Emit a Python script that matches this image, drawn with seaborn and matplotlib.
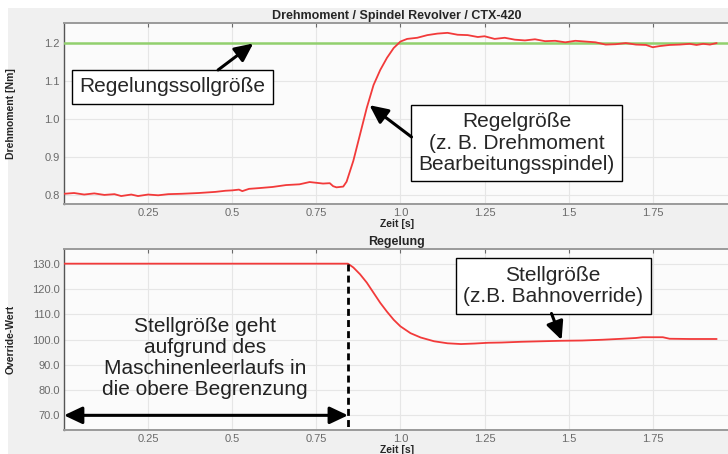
import matplotlib
matplotlib.use("Agg")
import matplotlib.pyplot as plt
import seaborn as sns
from matplotlib.patches import Rectangle

# ---------------------------------------------------------------
# Data
# ---------------------------------------------------------------
t_torque = [0.00, 0.03, 0.06, 0.09, 0.12, 0.15, 0.17, 0.20, 0.22, 0.25,
            0.28, 0.31, 0.35, 0.40, 0.45, 0.48, 0.50, 0.52, 0.53, 0.55,
            0.58, 0.62, 0.66, 0.70, 0.73, 0.75, 0.77, 0.79, 0.80, 0.81,
            0.83, 0.84, 0.86, 0.88, 0.90, 0.92, 0.94, 0.96, 0.98, 1.00,
            1.02, 1.05, 1.08, 1.11, 1.14, 1.17, 1.20, 1.23, 1.25, 1.28,
            1.31, 1.34, 1.37, 1.40, 1.43, 1.46, 1.49, 1.52, 1.55, 1.58,
            1.61, 1.64, 1.67, 1.70, 1.73, 1.75, 1.77, 1.80, 1.83, 1.86,
            1.88, 1.90, 1.92, 1.94]
torque = [0.803, 0.805, 0.801, 0.804, 0.800, 0.802, 0.797, 0.801, 0.797, 0.801,
          0.799, 0.802, 0.803, 0.805, 0.808, 0.811, 0.812, 0.814, 0.810, 0.816,
          0.818, 0.821, 0.826, 0.828, 0.834, 0.832, 0.830, 0.831, 0.823, 0.820,
          0.822, 0.835, 0.890, 0.960, 1.030, 1.090, 1.130, 1.162, 1.188, 1.205,
          1.212, 1.215, 1.222, 1.226, 1.228, 1.223, 1.222, 1.217, 1.219, 1.212,
          1.215, 1.210, 1.208, 1.211, 1.206, 1.207, 1.203, 1.207, 1.205, 1.203,
          1.197, 1.198, 1.201, 1.197, 1.196, 1.190, 1.193, 1.196, 1.197, 1.199,
          1.196, 1.199, 1.197, 1.201]
torque_setpoint = 1.2

t_override = [0.00, 0.844, 0.86, 0.88, 0.90, 0.92, 0.94, 0.96, 0.98, 1.00,
              1.03, 1.06, 1.10, 1.14, 1.18, 1.22, 1.26, 1.30, 1.36, 1.42,
              1.48, 1.54, 1.60, 1.66, 1.70, 1.72, 1.78, 1.80, 1.86, 1.94]
override = [130.0, 130.0, 128.5, 125.8, 122.5, 118.5, 114.5, 111.0, 107.8, 105.2,
            102.5, 100.8, 99.3, 98.5, 98.2, 98.4, 98.7, 98.8, 99.1, 99.3,
            99.5, 99.6, 99.9, 100.3, 100.6, 100.9, 100.9, 100.3, 100.2, 100.2]
t_limit = 0.844

x_ticks = [0.25, 0.5, 0.75, 1.0, 1.25, 1.5, 1.75]
x_ticklabels = ["0.25", "0.5", "0.75", "1.0", "1.25", "1.5", "1.75"]
y1_ticks = [0.8, 0.9, 1.0, 1.1, 1.2]
y2_ticks = [70, 80, 90, 100, 110, 120, 130]

# ---------------------------------------------------------------
# Style
# ---------------------------------------------------------------
sns.set_style("whitegrid")
plt.rcParams["font.family"] = ["Liberation Sans", "DejaVu Sans"]

RED = "#f23a3a"
GREEN = "#92d06e"
TICK_GRAY = "#6a6a6a"

fig = plt.figure(figsize=(7.28, 4.54), dpi=100, facecolor="white")
fig.patches.append(Rectangle((8 / 728, 0), 1, 1 - 8 / 454, transform=fig.transFigure,
                             facecolor="#f0f0f0", edgecolor="none", zorder=-10))

ax1 = fig.add_axes([64 / 728, 1 - 204 / 454, 1 - 64 / 728 + 0.002, 181 / 454])
ax2 = fig.add_axes([64 / 728, 1 - 430 / 454, 1 - 64 / 728 + 0.002, 181 / 454])

sns.lineplot(x=t_torque, y=torque, ax=ax1, color=RED, lw=1.3, zorder=4)
ax1.axhline(torque_setpoint, color=GREEN, lw=1.8, zorder=3)
sns.lineplot(x=t_override, y=override, ax=ax2, color=RED, lw=1.3, zorder=4)

ax1.set_ylim(0.776, 1.254)
ax2.set_ylim(64.2, 135.8)

for ax in (ax1, ax2):
    ax.set_facecolor("#fbfbfb")
    ax.set_xlim(0, 1.978)
    ax.set_xticks(x_ticks)
    ax.set_xticklabels(x_ticklabels)
    ax.grid(True, color="#e6e6e6", lw=0.8)
    ax.tick_params(axis="both", labelsize=8, colors=TICK_GRAY, length=3,
                   direction="in", top=True, pad=3)
    for side in ("top", "bottom", "right"):
        ax.spines[side].set_color("#9a9a9a")
        ax.spines[side].set_linewidth(1.4)
    ax.spines["left"].set_color("#555555")
    ax.spines["left"].set_linewidth(1.0)
    ax.set_xlabel("Zeit [s]", fontsize=7.5, fontweight="bold")
    ax.xaxis.set_label_coords(0.5, -0.085)
    ax.yaxis.set_label_coords(-0.072, 0.5)

ax1.set_yticks(y1_ticks)
ax1.set_yticklabels([f"{v:.1f}" for v in y1_ticks])
ax2.set_yticks(y2_ticks)
ax2.set_yticklabels([f"{v:.1f}" for v in y2_ticks])

ax1.set_ylabel("Drehmoment [Nm]", fontsize=7.5, fontweight="bold")
ax2.set_ylabel("Override-Wert", fontsize=7.5, fontweight="bold")
ax1.set_title("Drehmoment / Spindel Revolver / CTX-420", fontsize=9,
              fontweight="bold", pad=3)
ax2.set_title("Regelung", fontsize=9, fontweight="bold", pad=3)

# ---------------------------------------------------------------
# Annotations
# ---------------------------------------------------------------
BOX = dict(boxstyle="square,pad=0.36", facecolor="white", edgecolor="black", lw=1.0)
HEAD = "-|>,head_length=0.55,head_width=0.26"
ARROW = dict(arrowstyle=HEAD, color="black", lw=2.2, mutation_scale=20,
             shrinkA=0, shrinkB=0)
FS = 15

ax1.text(0.323, 1.085, "Regelungssollgröße", fontsize=FS, ha="center",
         va="center", bbox=BOX, zorder=6)
ax1.annotate("", xy=(0.5625, 1.2), xytext=(0.458, 1.130), arrowprops=ARROW, zorder=7)

ax1.text(1.345, 0.937, "Regelgröße\n(z. B. Drehmoment\nBearbeitungsspindel)",
         fontsize=FS, ha="center", va="center", bbox=BOX, linespacing=1.15, zorder=6)
ax1.annotate("", xy=(0.908, 1.037), xytext=(1.033, 0.953), arrowprops=ARROW, zorder=7)

ax2.text(1.454, 121.2, "Stellgröße\n(z.B. Bahnoverride)", fontsize=FS,
         ha="center", va="center", bbox=BOX, linespacing=1.15, zorder=6)
ax2.annotate("", xy=(1.479, 99.8), xytext=(1.449, 110.3), arrowprops=ARROW, zorder=7)

ax2.text(0.42, 92.7, "Stellgröße geht\naufgrund des\nMaschinenleerlaufs in\ndie obere Begrenzung",
         fontsize=FS, ha="center", va="center", linespacing=1.15, color="#222222", zorder=6)
ax2.annotate("", xy=(t_limit, 70), xytext=(0.0, 70),
             arrowprops=dict(arrowstyle="<|-|>,head_length=0.55,head_width=0.26",
                             color="black", lw=2.2, mutation_scale=20,
                             shrinkA=0, shrinkB=0), zorder=7)
ax2.plot([t_limit, t_limit], [130, 64.2], color="black", lw=2.0,
         ls=(0, (2.5, 1.5)), zorder=5, clip_on=False)

fig.savefig("out.png", dpi=100, facecolor=fig.get_facecolor())
